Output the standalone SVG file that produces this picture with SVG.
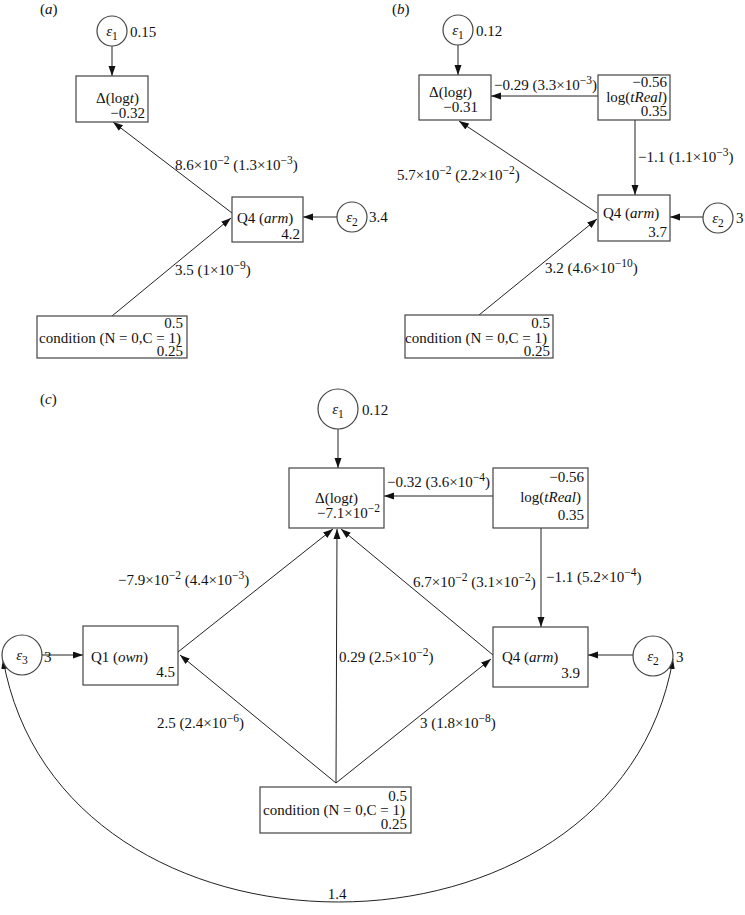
<svg xmlns="http://www.w3.org/2000/svg" width="745" height="915" viewBox="0 0 745 915">
<style>
text{font-family:"Liberation Serif","Times New Roman",serif;font-size:15px;fill:#111}
.e{text-anchor:end}
.m{text-anchor:middle}
.i{font-style:italic}
.s{font-size:11.5px}
.box{fill:#fff;stroke:#444;stroke-width:1.2}
.cir{fill:#fff;stroke:#444;stroke-width:1.2}
.ln{fill:none;stroke:#222;stroke-width:1}
</style>
<defs>
<marker id="ah" markerWidth="11" markerHeight="8" refX="10" refY="3.5" orient="auto-start-reverse" markerUnits="userSpaceOnUse">
<path d="M0,0 L10,3.5 L0,7 z" fill="#111"/>
</marker>
</defs>
<rect width="745" height="915" fill="#fff"/>

<text x="40" y="14">(<tspan class="i">a</tspan>)</text>
<text x="392" y="14">(<tspan class="i">b</tspan>)</text>
<text x="40" y="404">(<tspan class="i">c</tspan>)</text>

<g id="connectors">
<!-- panel a -->
<line class="ln" x1="112" y1="46" x2="112" y2="76" marker-end="url(#ah)"/>
<line class="ln" x1="232" y1="213" x2="113" y2="122" marker-end="url(#ah)"/>
<line class="ln" x1="112" y1="316" x2="231" y2="218" marker-end="url(#ah)"/>
<line class="ln" x1="337" y1="217" x2="303" y2="217" marker-end="url(#ah)"/>
<!-- panel b -->
<line class="ln" x1="458" y1="45" x2="458" y2="75" marker-end="url(#ah)"/>
<line class="ln" x1="598" y1="96" x2="491" y2="96" marker-end="url(#ah)"/>
<line class="ln" x1="635" y1="120" x2="635" y2="195" marker-end="url(#ah)"/>
<line class="ln" x1="597" y1="213" x2="459" y2="121" marker-end="url(#ah)"/>
<line class="ln" x1="479" y1="315" x2="597" y2="219" marker-end="url(#ah)"/>
<line class="ln" x1="703" y1="217" x2="670" y2="217" marker-end="url(#ah)"/>
<!-- panel c -->
<line class="ln" x1="338" y1="429" x2="338" y2="468" marker-end="url(#ah)"/>
<line class="ln" x1="493" y1="496" x2="384" y2="496" marker-end="url(#ah)"/>
<line class="ln" x1="541" y1="528" x2="541" y2="627" marker-end="url(#ah)"/>
<line class="ln" x1="633" y1="655" x2="588" y2="655" marker-end="url(#ah)"/>
<line class="ln" x1="42" y1="655" x2="83" y2="655" marker-end="url(#ah)"/>
<line class="ln" x1="178" y1="652" x2="333" y2="529" marker-end="url(#ah)"/>
<line class="ln" x1="336" y1="783" x2="180" y2="655" marker-end="url(#ah)"/>
<line class="ln" x1="336" y1="783" x2="337" y2="529" marker-end="url(#ah)"/>
<line class="ln" x1="336" y1="783" x2="491" y2="659" marker-end="url(#ah)"/>
<line class="ln" x1="493" y1="655" x2="341" y2="529" marker-end="url(#ah)"/>
<path class="ln" d="M3,659 C60,983 617,983 673,659" marker-start="url(#ah)" marker-end="url(#ah)"/>

<!-- labels -->
<text x="175" y="170">8.6×10<tspan class="s" dy="-6">−2</tspan><tspan dy="6"> (1.3×10</tspan><tspan class="s" dy="-6">−3</tspan><tspan dy="6">)</tspan></text>
<text x="175" y="275">3.5 (1×10<tspan class="s" dy="-6">−9</tspan><tspan dy="6">)</tspan></text>
<text x="494" y="90">−0.29 (3.3×10<tspan class="s" dy="-6">−3</tspan><tspan dy="6">)</tspan></text>
<text x="638" y="162">−1.1 (1.1×10<tspan class="s" dy="-6">−3</tspan><tspan dy="6">)</tspan></text>
<text x="397" y="180">5.7×10<tspan class="s" dy="-6">−2</tspan><tspan dy="6"> (2.2×10</tspan><tspan class="s" dy="-6">−2</tspan><tspan dy="6">)</tspan></text>
<text x="545" y="273">3.2 (4.6×10<tspan class="s" dy="-6">−10</tspan><tspan dy="6">)</tspan></text>
<text x="387" y="487">−0.32 (3.6×10<tspan class="s" dy="-6">−4</tspan><tspan dy="6">)</tspan></text>
<text x="546" y="582">−1.1 (5.2×10<tspan class="s" dy="-6">−4</tspan><tspan dy="6">)</tspan></text>
<text x="413" y="587">6.7×10<tspan class="s" dy="-6">−2</tspan><tspan dy="6"> (3.1×10</tspan><tspan class="s" dy="-6">−2</tspan><tspan dy="6">)</tspan></text>
<text x="118" y="585">−7.9×10<tspan class="s" dy="-6">−2</tspan><tspan dy="6"> (4.4×10</tspan><tspan class="s" dy="-6">−3</tspan><tspan dy="6">)</tspan></text>
<text x="339" y="662">0.29 (2.5×10<tspan class="s" dy="-6">−2</tspan><tspan dy="6">)</tspan></text>
<text x="157" y="728">2.5 (2.4×10<tspan class="s" dy="-6">−6</tspan><tspan dy="6">)</tspan></text>
<text x="420" y="728">3 (1.8×10<tspan class="s" dy="-6">−8</tspan><tspan dy="6">)</tspan></text>
<text class="m" x="337" y="899">1.4</text>
</g>

<!-- panel a nodes -->
<g id="a-e1">
<circle class="cir" cx="112" cy="31" r="15"/>
<text class="m" x="112" y="36"><tspan class="i">ε</tspan><tspan class="s" dy="4">1</tspan></text>
<text x="130" y="37">0.15</text>
</g>
<g id="a-dlogt">
<rect class="box" x="76" y="76" width="72" height="46"/>
<text x="96" y="103">Δ(log<tspan class="i">t</tspan>)</text>
<text class="e" x="145" y="118">−0.32</text>
</g>
<g id="a-q4">
<rect class="box" x="232" y="197" width="71" height="45"/>
<text x="237" y="223">Q4 (<tspan class="i">arm</tspan>)</text>
<text class="e" x="300" y="239">4.2</text>
</g>
<g id="a-e2">
<circle class="cir" cx="352" cy="217" r="15"/>
<text class="m" x="352" y="222"><tspan class="i">ε</tspan><tspan class="s" dy="4">2</tspan></text>
<text x="369" y="222">3.4</text>
</g>
<g id="a-cond">
<rect class="box" x="37" y="316" width="150" height="42"/>
<text class="e" x="183" y="328">0.5</text>
<text class="e" x="181" y="343">condition (N = 0,C = 1)</text>
<text class="e" x="183" y="356">0.25</text>
</g>

<!-- panel b nodes -->
<g id="b-e1">
<circle class="cir" cx="458" cy="30" r="15"/>
<text class="m" x="458" y="35"><tspan class="i">ε</tspan><tspan class="s" dy="4">1</tspan></text>
<text x="476" y="36">0.12</text>
</g>
<g id="b-dlogt">
<rect class="box" x="419" y="75" width="72" height="45"/>
<text x="429" y="97">Δ(log<tspan class="i">t</tspan>)</text>
<text class="e" x="478" y="112">−0.31</text>
</g>
<g id="b-logtreal">
<rect class="box" x="598" y="75" width="72" height="45"/>
<text class="e" x="667" y="87">−0.56</text>
<text class="e" x="667" y="102">log(<tspan class="i">tReal</tspan>)</text>
<text class="e" x="667" y="116">0.35</text>
</g>
<g id="b-q4">
<rect class="box" x="598" y="195" width="72" height="46"/>
<text x="603" y="218">Q4 (<tspan class="i">arm</tspan>)</text>
<text class="e" x="667" y="237">3.7</text>
</g>
<g id="b-e2">
<circle class="cir" cx="718" cy="218" r="15"/>
<text class="m" x="718" y="223"><tspan class="i">ε</tspan><tspan class="s" dy="4">2</tspan></text>
<text x="736" y="223">3</text>
</g>
<g id="b-cond">
<rect class="box" x="405" y="315" width="148" height="43"/>
<text class="e" x="550" y="328">0.5</text>
<text class="e" x="547" y="343">condition (N = 0,C = 1)</text>
<text class="e" x="550" y="356">0.25</text>
</g>

<!-- panel c nodes -->
<g id="c-e1">
<circle class="cir" cx="338" cy="409" r="20"/>
<text class="m" x="338" y="414"><tspan class="i">ε</tspan><tspan class="s" dy="4">1</tspan></text>
<text x="362" y="415">0.12</text>
</g>
<g id="c-dlogt">
<rect class="box" x="289" y="468" width="95" height="60"/>
<text x="315" y="503">Δ(log<tspan class="i">t</tspan>)</text>
<text x="317" y="518">−7.1×10<tspan class="s" dy="-6">−2</tspan></text>
</g>
<g id="c-logtreal">
<rect class="box" x="493" y="468" width="95" height="60"/>
<text class="e" x="584" y="482">−0.56</text>
<text class="e" x="581" y="502">log(<tspan class="i">tReal</tspan>)</text>
<text class="e" x="584" y="520">0.35</text>
</g>
<g id="c-q4">
<rect class="box" x="493" y="627" width="95" height="60"/>
<text x="502" y="662">Q4 (<tspan class="i">arm</tspan>)</text>
<text class="e" x="580" y="678">3.9</text>
</g>
<g id="c-e2">
<circle class="cir" cx="653" cy="656" r="20"/>
<text class="m" x="653" y="661"><tspan class="i">ε</tspan><tspan class="s" dy="4">2</tspan></text>
<text x="676" y="662">3</text>
</g>
<g id="c-q1">
<rect class="box" x="83" y="626" width="95" height="59"/>
<text x="91" y="662">Q1 (<tspan class="i">own</tspan>)</text>
<text class="e" x="175" y="677">4.5</text>
</g>
<g id="c-e3">
<circle class="cir" cx="22" cy="655" r="20"/>
<text class="m" x="22" y="660"><tspan class="i">ε</tspan><tspan class="s" dy="4">3</tspan></text>
<text x="44" y="662">3</text>
</g>
<g id="c-cond">
<rect class="box" x="260" y="787" width="151" height="46"/>
<text class="e" x="407" y="801">0.5</text>
<text class="e" x="405" y="815">condition (N = 0,C = 1)</text>
<text class="e" x="407" y="829">0.25</text>
</g>
</svg>
